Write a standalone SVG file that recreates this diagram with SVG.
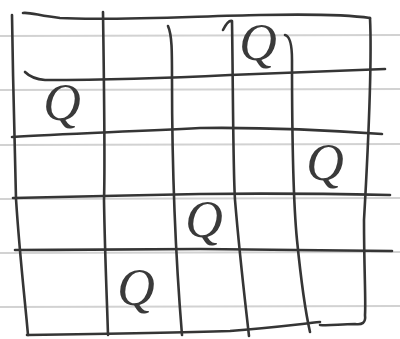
<svg xmlns="http://www.w3.org/2000/svg" width="400" height="339" viewBox="0 0 400 339">
<style>
.rule{stroke:#d2d2d2;stroke-width:2;fill:none}
.ink{stroke:#353535;stroke-width:2.6;fill:none;stroke-linecap:round;stroke-linejoin:round}
.q{font-family:"Liberation Serif",serif;font-style:italic;font-size:52px;fill:#3a3a3a;text-anchor:middle}
</style>
<rect width="400" height="339" fill="#ffffff"/>
<g id="paper">
<line class="rule" x1="0" y1="36" x2="400" y2="35"/>
<line class="rule" x1="0" y1="90" x2="400" y2="89"/>
<line class="rule" x1="0" y1="145" x2="400" y2="144"/>
<line class="rule" x1="0" y1="199" x2="400" y2="198"/>
<line class="rule" x1="0" y1="253" x2="400" y2="252"/>
<line class="rule" x1="0" y1="307" x2="400" y2="306"/>
</g>
<g id="grid">
<path class="ink" d="M23,13 C30,12 40,16 60,18 C110,21 200,16 260,15 C310,14 350,15 370,18"/>
<path class="ink" d="M25,72 C28,75 33,79 45,80 C100,80 170,78 230,75 C300,72 350,70 385,69"/>
<path class="ink" d="M12,137 C60,134 120,132 200,128 C280,127 340,131 382,134"/>
<path class="ink" d="M13,198 C60,197 140,195 200,194 C280,193 340,194 390,195"/>
<path class="ink" d="M15,250 C80,250 150,249 200,249 C280,250 340,250 392,251"/>
<path class="ink" d="M27,335 C100,334 170,333 230,331 C270,328 300,324 320,322"/>
<path class="ink" d="M12,15 C13,80 15,170 16,199 C20,260 25,300 28,335"/>
<path class="ink" d="M103,12 C104,80 105,170 104,200 C105,260 107,300 108,335"/>
<path class="ink" d="M168,26 C172,35 172,50 172,80 C172,170 175,250 182,335"/>
<path class="ink" d="M223,30 C226,24 229,20 232,21 C233,80 233,170 235,200 C240,260 245,300 249,336"/>
<path class="ink" d="M285,35 C290,36 292,45 292,60 C292,170 294,210 297,240 C301,280 305,310 310,332"/>
<path class="ink" d="M370,18 C372,60 368,150 364,220 C364,270 366,300 365,315 C366,323 362,325 355,324 C340,324 330,326 320,325"/>
</g>
<g id="queens">
<text class="q" x="62" y="120">Q</text>
<text class="q" x="258" y="60">Q</text>
<text class="q" x="325" y="180">Q</text>
<text class="q" x="204" y="237">Q</text>
<text class="q" x="136" y="305">Q</text>
</g>
</svg>
